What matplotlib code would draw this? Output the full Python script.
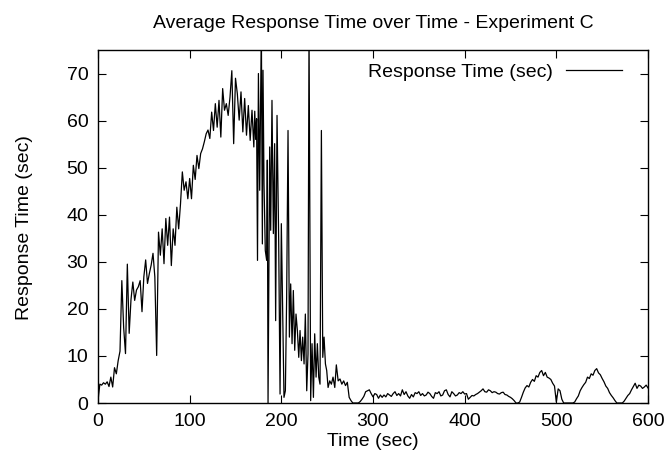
import numpy as np
import matplotlib
matplotlib.use('Agg')
import matplotlib.pyplot as plt

plt.rcParams['font.family'] = ['Liberation Sans', 'DejaVu Sans']

# Ramp-up part, one sample every 2 s from 0 to 168 s.
ramp_values = [
    0.5, 4.0, 3.8, 4.3, 4.0, 4.5, 3.5, 5.5, 3.4, 7.5,
    6.2, 9.0, 11.0, 26.0, 16.0, 10.5, 29.5, 14.8, 22.0, 25.7,
    21.8, 24.0, 24.7, 26.0, 19.4, 26.8, 30.4, 25.4, 27.5, 29.3,
    31.8, 26.8, 10.1, 36.3, 31.4, 37.0, 29.6, 39.2, 33.5, 39.5,
    29.2, 37.0, 33.5, 41.6, 37.0, 42.3, 49.1, 45.2, 47.0, 43.4,
    47.7, 43.4, 50.5, 47.5, 52.6, 49.8, 53.0, 54.0, 55.5, 57.2,
    58.0, 56.2, 61.8, 57.9, 63.6, 58.6, 64.3, 56.5, 66.8, 62.2,
    63.6, 61.1, 65.0, 70.6, 55.1, 69.0, 65.7, 60.1, 66.1, 57.6,
    64.7, 56.9, 63.2, 55.8, 62.2,
]

# Unstable part, irregular samples between 170 and 258 s.
burst_times = [
    170, 171, 172, 173, 174, 175, 176.4, 178.2, 179.3, 180,
    181.1, 182.5, 184, 184.7, 185.5, 187.3, 188.4, 189.8, 191.3, 192.7,
    193.8, 195.3, 197.1, 198.6, 200, 201.5, 202.9, 204.4, 205.8, 207.3,
    208.8, 210.2, 211.7, 213.1, 214.6, 216, 217.5, 219, 220.4, 221.9,
    223.3, 224.8, 226.2, 227.7, 229.1, 230.2, 232, 233.5, 235, 236.4,
    237.9, 239.3, 240.8, 242.2, 243.7, 245.2, 246.6, 248.1, 249.5, 251,
    252.8, 254.6, 256.4, 258.3,
]
burst_values = [
    54.4, 62.0, 56.0, 60.4, 30.3, 70.0, 45.2, 80.0, 33.8, 70.7,
    46.6, 32.4, 30.3, 51.6, 0.0, 54.4, 36.7, 64.3, 36.0, 55.1,
    17.5, 61.1, 34.6, 1.9, 38.1, 19.6, 1.2, 2.6, 22.5, 57.9,
    14.0, 25.3, 12.6, 23.9, 11.2, 18.9, 15.4, 9.7, 15.4, 9.0,
    14.0, 8.3, 18.9, 2.6, 10.4, 80.0, 0.5, 12.6, 1.2, 14.7,
    5.5, 12.6, 5.5, 4.0, 57.9, 9.7, 14.0, 8.3, 6.9, 3.3,
    4.7, 4.0, 5.5, 3.3,
]

# Recovered part, one sample every 2 s from 260 to 600 s.
tail_values = [
    8.1, 4.7, 5.1, 4.0, 4.7, 3.7, 4.4, 1.2, 0.5, 0.0,
    0.0, 0.0, 0.0, 0.3, 0.8, 1.4, 2.4, 2.6, 2.8, 2.0,
    1.3, 2.0, 1.8, 1.0, 1.7, 1.2, 1.7, 1.3, 2.0, 1.7,
    1.4, 2.0, 2.4, 1.6, 2.0, 1.5, 2.8, 1.8, 2.4, 1.5,
    1.0, 1.8, 1.3, 2.2, 2.0, 2.4, 1.6, 2.0, 1.5, 1.7,
    2.3, 2.0, 1.4, 1.0, 2.2, 2.0, 2.4, 1.5, 1.7, 2.6,
    2.8, 1.8, 1.3, 2.4, 2.0, 1.5, 1.7, 2.2, 2.0, 2.4,
    1.9, 2.0, 0.8, 1.2, 1.6, 1.5, 1.8, 2.0, 2.3, 2.6,
    3.0, 2.4, 2.3, 2.8, 2.6, 2.2, 2.4, 2.3, 2.0, 1.9,
    2.2, 2.3, 1.8, 1.7, 1.4, 1.2, 0.9, 0.5, 0.0, 0.0,
    0.2, 1.2, 2.3, 3.2, 3.7, 3.4, 4.4, 5.0, 4.6, 5.8,
    5.5, 6.5, 6.9, 5.8, 6.5, 5.5, 5.3, 5.0, 4.2, 3.6,
    0.2, 3.0, 2.6, 0.8, 0.0, 0.0, 0.0, 0.0, 0.0, 0.0,
    0.2, 0.9, 1.5, 2.6, 3.3, 3.9, 4.4, 5.5, 5.2, 6.2,
    5.9, 6.9, 7.3, 6.4, 6.0, 5.2, 4.5, 3.6, 3.1, 2.2,
    1.6, 1.1, 0.5, 0.0, 0.0, 0.0, 0.0, 0.4, 1.0, 1.6,
    2.0, 2.8, 3.5, 4.2, 3.1, 3.8, 3.6, 3.1, 3.4, 3.8,
    3.2,
]

ramp_times = 2 * np.arange(len(ramp_values))
tail_times = 260 + 2 * np.arange(len(tail_values))

t = np.concatenate([ramp_times, burst_times, tail_times])
rt = np.concatenate([ramp_values, burst_values, tail_values])

fig = plt.figure(figsize=(6.69, 4.68), dpi=100)
ax = fig.add_axes([98 / 669, 1 - 403 / 468, 550 / 669, 353 / 468])

ax.plot(t, rt, color='black', linewidth=0.9, label='Response Time (sec)')

ax.set_xlim(0, 600)
ax.set_ylim(0, 75)
ax.set_xticks(range(0, 601, 100))
ax.set_yticks(range(0, 71, 10))
ax.tick_params(direction='in', top=True, right=True, length=6, width=0.8,
               labelsize=14, pad=7)
for s in ax.spines.values():
    s.set_linewidth(1.0)

fig.text(373 / 669, 1 - 23 / 468, 'Average Response Time over Time - Experiment C',
         ha='center', va='center', fontsize=14)
fig.text(373 / 669, 1 - 441 / 468, 'Time (sec)', ha='center', va='center', fontsize=14)
fig.text(25 / 669, 1 - 228 / 468, 'Response Time (sec)', ha='center', va='center',
         rotation=90, fontsize=14)

ax.legend(loc='upper right', bbox_to_anchor=(1 - 12 / 550, 1), frameon=False,
          markerfirst=False, fontsize=14, handlelength=2.9,
          borderaxespad=0.3, handletextpad=0.7)

fig.savefig('out.png')
